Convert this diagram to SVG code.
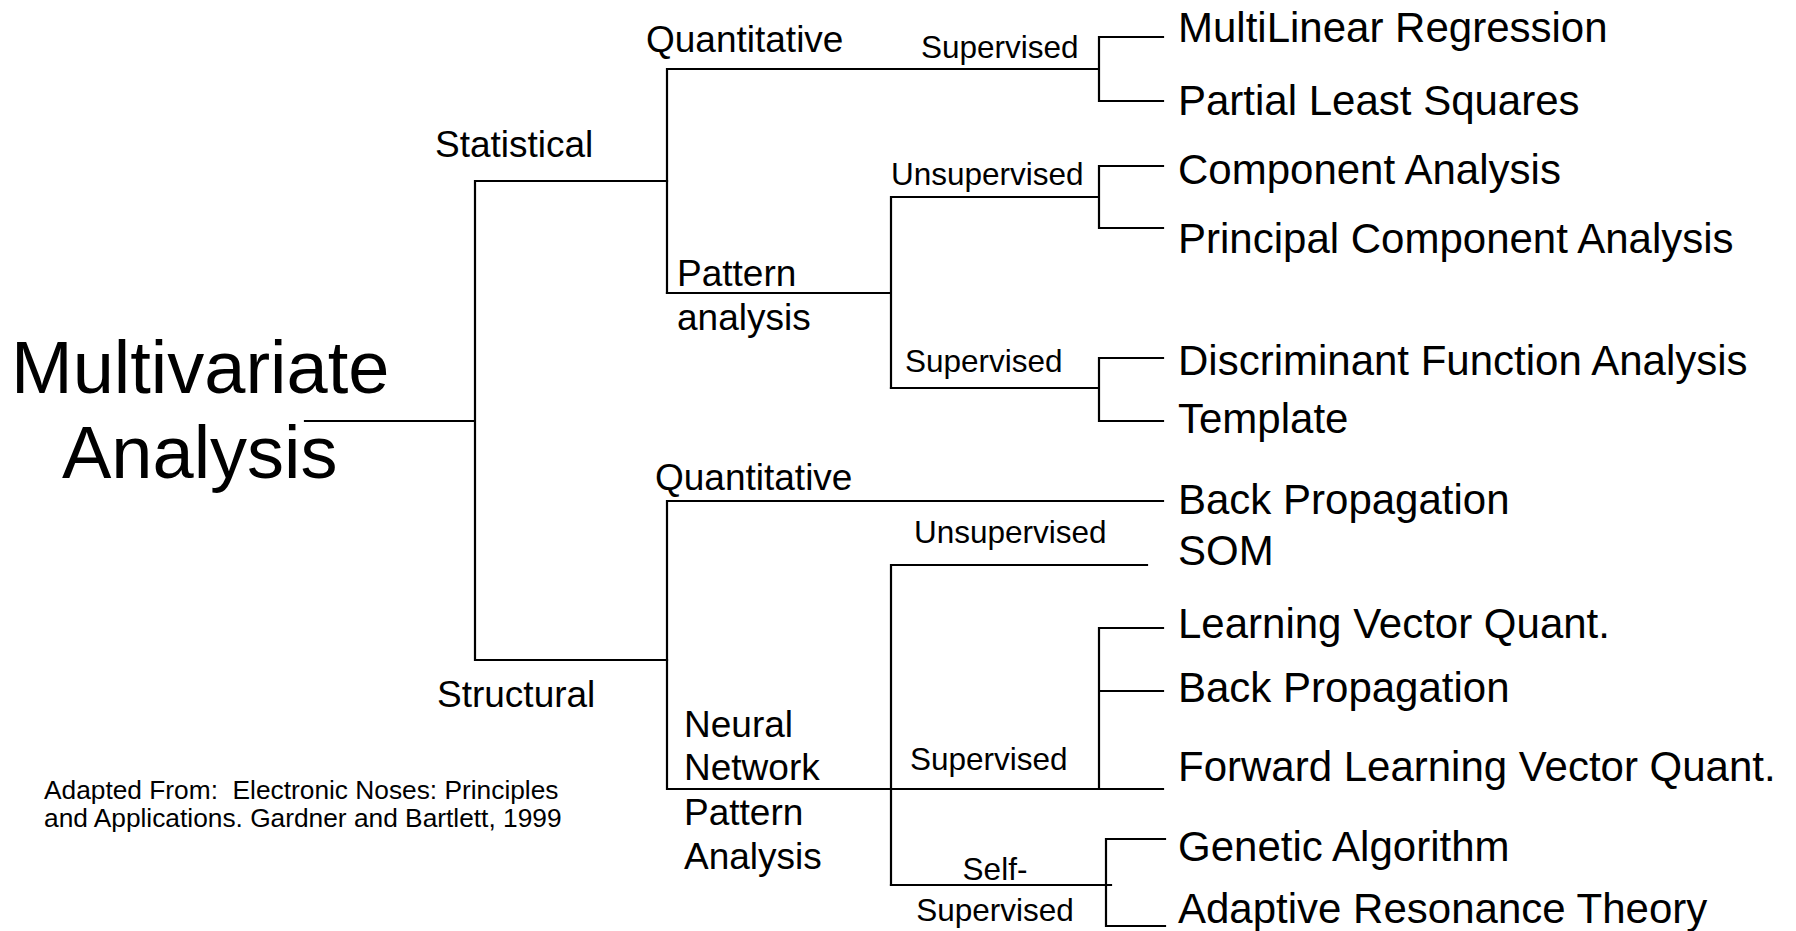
<svg xmlns="http://www.w3.org/2000/svg" width="1796" height="931" viewBox="0 0 1796 931">
<style>
text{font-family:"Liberation Sans",Arial,sans-serif;fill:#000}
.title{font-size:74px}
.mid{font-size:37px}
.sup{font-size:31.5px}
.leaf{font-size:42px}
.note{font-size:26.3px;white-space:pre}
.ln{fill:none;stroke:#000;stroke-width:2.2;stroke-linecap:square}
</style>
<rect width="1796" height="931" fill="#fff"/>
<g id="connectors" class="ln">
<path d="M305 421H475M475 181V660M475 181H667M475 660H667"/>
<path d="M667 69V293M667 69H1099M1099 37V101M1099 37H1163M1099 101H1163"/>
<path d="M667 293H891M891 197V388M891 197H1099M1099 166V228M1099 166H1163M1099 228H1163"/>
<path d="M891 388H1099M1099 358V421M1099 358H1163M1099 421H1163"/>
<path d="M667 501V789M667 501H1163M667 789H1163"/>
<path d="M891 565V885M891 565H1147"/>
<path d="M1099 628V789M1099 628H1163M1099 691H1163"/>
<path d="M891 885H1111M1106 839V926M1106 839H1165M1106 926H1165"/>
</g>
<g id="root"><text class="title" x="11" y="393">Multivariate</text><text class="title" x="62" y="478">Analysis</text></g>
<g id="statistical"><text class="mid" x="435" y="157">Statistical</text></g>
<g id="structural"><text class="mid" x="437" y="707">Structural</text></g>
<g id="stat-quant"><text class="mid" x="646" y="52">Quantitative</text></g>
<g id="stat-pattern"><text class="mid" x="677" y="286">Pattern</text><text class="mid" x="677" y="330">analysis</text></g>
<g id="stat-quant-sup"><text class="sup" x="921" y="58">Supervised</text></g>
<g id="stat-pat-unsup"><text class="sup" x="891" y="185">Unsupervised</text></g>
<g id="stat-pat-sup"><text class="sup" x="905" y="372">Supervised</text></g>
<g id="struct-quant"><text class="mid" x="655" y="490">Quantitative</text></g>
<g id="struct-nn"><text class="mid" x="684" y="737">Neural</text><text class="mid" x="684" y="780">Network</text><text class="mid" x="684" y="825">Pattern</text><text class="mid" x="684" y="869">Analysis</text></g>
<g id="nn-unsup"><text class="sup" x="914" y="543">Unsupervised</text></g>
<g id="nn-sup"><text class="sup" x="910" y="770">Supervised</text></g>
<g id="nn-self"><text class="sup" x="995" y="880" text-anchor="middle">Self-</text><text class="sup" x="995" y="921" text-anchor="middle">Supervised</text></g>
<g id="leaf-mlr"><text class="leaf" x="1178" y="42">MultiLinear Regression</text></g>
<g id="leaf-pls"><text class="leaf" x="1178" y="115">Partial Least Squares</text></g>
<g id="leaf-ca"><text class="leaf" x="1178" y="184">Component Analysis</text></g>
<g id="leaf-pca"><text class="leaf" x="1178" y="253">Principal Component Analysis</text></g>
<g id="leaf-dfa"><text class="leaf" x="1178" y="375">Discriminant Function Analysis</text></g>
<g id="leaf-template"><text class="leaf" x="1178" y="433">Template</text></g>
<g id="leaf-bp1"><text class="leaf" x="1178" y="514">Back Propagation</text></g>
<g id="leaf-som"><text class="leaf" x="1178" y="565">SOM</text></g>
<g id="leaf-lvq"><text class="leaf" x="1178" y="638">Learning Vector Quant.</text></g>
<g id="leaf-bp2"><text class="leaf" x="1178" y="702">Back Propagation</text></g>
<g id="leaf-flvq"><text class="leaf" x="1178" y="781">Forward Learning Vector Quant.</text></g>
<g id="leaf-ga"><text class="leaf" x="1178" y="861">Genetic Algorithm</text></g>
<g id="leaf-art"><text class="leaf" x="1178" y="923">Adaptive Resonance Theory</text></g>
<g id="note"><text class="note" x="44" y="799">Adapted From:  Electronic Noses: Principles</text><text class="note" x="44" y="827">and Applications. Gardner and Bartlett, 1999</text></g>
</svg>
